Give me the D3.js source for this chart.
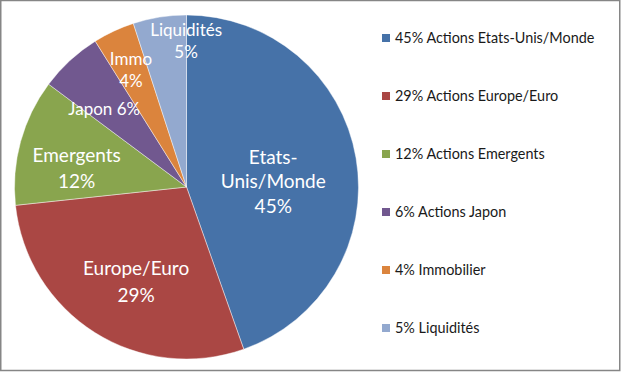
<!DOCTYPE html>
<html>
<head>
<meta charset="utf-8">
<script src="https://cdn.jsdelivr.net/npm/d3@7"></script>
<style>
  html, body { margin: 0; padding: 0; background: #fff; }
  svg { display: block; font-family: Lato, 'Open Sans', sans-serif; }
</style>
</head>
<body>
<svg id="chart" width="621" height="372"></svg>
<script>
// Portfolio split, clockwise from 12 o'clock
const names = ['Etats-Unis/Monde', 'Europe/Euro', 'Emergents', 'Japon', 'Immo', 'Liquidités'];
const shares = [44.6, 28.7, 11.9, 5.9, 3.9, 5.0];
const sliceLabels = [['Etats-', 'Unis/Monde', '45%'], ['Europe/Euro', '29%'], ['Emergents', '12%'], ['Japon 6%'], ['Immo', '4%'], ['Liquidités', '5%']];
const legendLabels = ['45% Actions Etats-Unis/Monde', '29% Actions Europe/Euro', '12% Actions Emergents', '6% Actions Japon', '4% Immobilier', '5% Liquidités'];
const colors = ['#4672a8', '#aa4744', '#89a54e', '#71588f', '#db843d', '#93a9cf'];

const width = 621;
const height = 372;
const cx = 186.5;
const cy = 187;
const radius = 172;

const svg = d3.select('#chart');

// outer frame
svg.append('rect')
  .attr('x', 0.75).attr('y', 0.5)
  .attr('width', width - 2).attr('height', height - 2)
  .attr('fill', '#fff')
  .attr('stroke', '#868686')
  .attr('stroke-width', 1.5);

const data = names.map((n, i) => ({ name: n, value: shares[i], i }));

const pie = d3.pie().sort(null).value((d) => d.value);
const arcs = pie(data);
const arc = d3.arc().innerRadius(0).outerRadius(radius);

const g = svg.append('g').attr('transform', `translate(${cx},${cy})`);

g.selectAll('path')
  .data(arcs)
  .join('path')
  .attr('d', arc)
  .attr('fill', (d) => colors[d.data.i])
  .attr('stroke', 'rgba(255,255,255,0.55)')
  .attr('stroke-width', 0.8);

// label placement: fraction of radius, nudge and line gap per slice
const labelR = [0.5, 0.55, 0.68, 0.62, 0.75, 0.87];
const nudge = [[2, 9], [0, 15], [3, 12], [-10, 0], [-1, 0], [23, 2]];
const lineGap = [24.5, 27, 26, 0, 22, 22];

arcs.forEach((a, k) => {
  const mid = (a.startAngle + a.endAngle) / 2;
  const r = radius * labelR[k];
  const x = Math.sin(mid) * r + nudge[k][0];
  const y = -Math.cos(mid) * r + nudge[k][1];
  const lines = sliceLabels[k];
  const t = g.append('text')
    .attr('text-anchor', 'middle')
    .attr('fill', '#fff')
    .style('font-size', (k < 3 ? 19 : 17) + 'px');
  lines.forEach((ln, j) => {
    t.append('tspan')
      .attr('x', x)
      .attr('y', y + (j - (lines.length - 1) / 2) * lineGap[k])
      .attr('dy', '0.36em')
      .text(ln);
  });
});

// legend
const legendY = d3.scalePoint()
  .domain(d3.range(legendLabels.length))
  .range([38, 328]);

const rows = svg.append('g').selectAll('g')
  .data(legendLabels)
  .join('g')
  .attr('transform', (d, i) => `translate(382,${legendY(i)})`);

rows.append('rect')
  .attr('x', 0).attr('y', -4)
  .attr('width', 8).attr('height', 8)
  .attr('fill', (d, i) => colors[i]);

rows.append('text')
  .attr('x', 13)
  .attr('dy', '0.36em')
  .attr('fill', '#1a1a1a')
  .style('font-size', '14.4px')
  .text((d) => d);
</script>
</body>
</html>
